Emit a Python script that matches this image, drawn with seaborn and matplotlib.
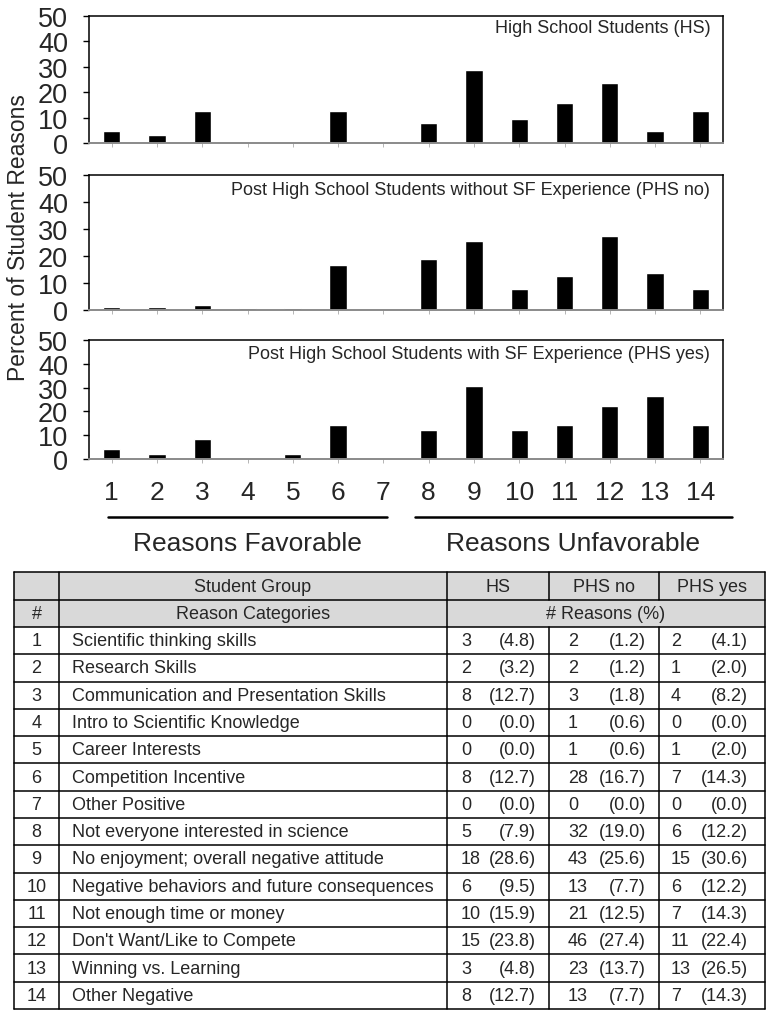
import matplotlib
matplotlib.use("Agg")
import matplotlib.pyplot as plt
import seaborn as sns
import pandas as pd
from matplotlib.patches import Rectangle

# -----------------------------
# Data (read off the table in the figure)
# -----------------------------
reason_ids = [str(i) for i in range(1, 15)]
categories = [
    "Scientific thinking skills",
    "Research Skills",
    "Communication and Presentation Skills",
    "Intro to Scientific Knowledge",
    "Career Interests",
    "Competition Incentive",
    "Other Positive",
    "Not everyone interested in science",
    "No enjoyment; overall negative attitude",
    "Negative behaviors and future consequences",
    "Not enough time or money",
    "Don't Want/Like to Compete",
    "Winning vs. Learning",
    "Other Negative",
]
hs_n = [3, 2, 8, 0, 0, 8, 0, 5, 18, 6, 10, 15, 3, 8]
hs_pct = [4.8, 3.2, 12.7, 0.0, 0.0, 12.7, 0.0, 7.9, 28.6, 9.5, 15.9, 23.8, 4.8, 12.7]
phs_no_n = [2, 2, 3, 1, 1, 28, 0, 32, 43, 13, 21, 46, 23, 13]
phs_no_pct = [1.2, 1.2, 1.8, 0.6, 0.6, 16.7, 0.0, 19.0, 25.6, 7.7, 12.5, 27.4, 13.7, 7.7]
phs_yes_n = [2, 1, 4, 0, 1, 7, 0, 6, 15, 6, 7, 11, 13, 7]
phs_yes_pct = [4.1, 2.0, 8.2, 0.0, 2.0, 14.3, 0.0, 12.2, 30.6, 12.2, 14.3, 22.4, 26.5, 14.3]

panel_titles = [
    "High School Students (HS)",
    "Post High School Students without SF Experience (PHS no)",
    "Post High School Students with SF Experience (PHS yes)",
]
group_names = ["HS", "PHS no", "PHS yes"]
group_n = [hs_n, phs_no_n, phs_yes_n]
group_pct = [hs_pct, phs_no_pct, phs_yes_pct]

# -----------------------------
# Style
# -----------------------------
sns.set_style("white")
plt.rcParams["font.family"] = ["Liberation Sans Narrow", "Liberation Sans", "DejaVu Sans"]

W, H = 768, 1012
fig = plt.figure(figsize=(W / 100, H / 100), dpi=100)

# panel boxes in pixels: (top, bottom)
boxes = [(17, 144), (176, 311), (341, 460)]
left_px, right_px = 89, 723
title_y = [0.91, 0.895, 0.89]

for i, (top, bot) in enumerate(boxes):
    ax = fig.add_axes([left_px / W, 1 - bot / H, (right_px - left_px) / W, (bot - top) / H])
    df = pd.DataFrame({"reason": reason_ids, "pct": group_pct[i]})
    sns.barplot(data=df, x="reason", y="pct", order=reason_ids, color="black",
                width=0.38, saturation=1, ax=ax)
    ax.set_xlim(-0.5, 13.5)
    ax.set_ylim(0, 50)
    ax.set_yticks([0, 10, 20, 30, 40, 50])
    ax.set_xlabel("")
    ax.set_ylabel("")
    for s in ["top", "right", "left"]:
        ax.spines[s].set_color("black")
        ax.spines[s].set_linewidth(1.1)
    ax.spines["bottom"].set_color("#8a8a8a")
    ax.spines["bottom"].set_linewidth(1.4)
    ax.tick_params(axis="y", left=True, length=4, width=1, color="black",
                   labelsize=19.5, pad=11)
    if i < 2:
        ax.tick_params(axis="x", bottom=True, length=3, width=0.6, color="#aaaaaa",
                       labelbottom=False)
    else:
        ax.tick_params(axis="x", bottom=True, length=3, width=0.6, color="#aaaaaa",
                       labelsize=19, pad=12)
    ax.text(0.98, title_y[i], panel_titles[i], transform=ax.transAxes,
            ha="right", va="center", fontsize=13)

fig.text(19 / W, 1 - 238 / H, "Percent of Student Reasons", rotation=90,
         ha="center", va="center", fontsize=16.5)

# overlay in pixel coordinates for underlines and the table
ov = fig.add_axes([0, 0, 1, 1])
ov.set_xlim(0, W)
ov.set_ylim(H, 0)
ov.axis("off")
ov.patch.set_alpha(0)

ov.plot([108, 387], [518, 518], color="black", lw=1.8)
ov.plot([415, 732], [518, 518], color="black", lw=1.8)
ov.text(247, 544, "Reasons Favorable", ha="center", va="center", fontsize=19)
ov.text(573, 544, "Reasons Unfavorable", ha="center", va="center", fontsize=19)

# -----------------------------
# Table
# -----------------------------
cols = [14, 59, 447, 549, 659, 765]
row_top = [573, 601, 628]
row_h = (1010 - 628) / 14
rows = row_top + [628 + row_h * (k + 1) for k in range(14)]
lw = 1.1
fs = 13

ov.add_patch(Rectangle((cols[0], rows[0]), cols[-1] - cols[0], rows[2] - rows[0],
                       facecolor="#d9d9d9", edgecolor="none"))
for y in rows:
    ov.plot([cols[0], cols[-1]], [y, y], color="black", lw=lw)
for x in [cols[0], cols[1], cols[2], cols[-1]]:
    ov.plot([x, x], [rows[0], rows[-1]], color="black", lw=lw)
for x in [cols[3], cols[4]]:
    ov.plot([x, x], [rows[0], rows[1]], color="black", lw=lw)
    ov.plot([x, x], [rows[2], rows[-1]], color="black", lw=lw)

def mid(a, b):
    return (a + b) / 2

ov.text(mid(cols[1], cols[2]), mid(rows[0], rows[1]), "Student Group", ha="center", va="center", fontsize=fs)
for g in range(3):
    ov.text(mid(cols[2 + g], cols[3 + g]), mid(rows[0], rows[1]), group_names[g],
            ha="center", va="center", fontsize=fs)
ov.text(mid(cols[0], cols[1]), mid(rows[1], rows[2]), "#", ha="center", va="center", fontsize=fs)
ov.text(mid(cols[1], cols[2]), mid(rows[1], rows[2]), "Reason Categories", ha="center", va="center", fontsize=fs)
ov.text(mid(cols[2], cols[5]), mid(rows[1], rows[2]), "# Reasons (%)", ha="center", va="center", fontsize=fs)

left_off = [14, 19, 12]
right_off = [13, 13, 17]
for k in range(14):
    yc = mid(rows[2 + k], rows[3 + k])
    ov.text(mid(cols[0], cols[1]), yc, reason_ids[k], ha="center", va="center", fontsize=fs)
    ov.text(cols[1] + 13, yc, categories[k], ha="left", va="center", fontsize=fs)
    for g in range(3):
        ov.text(cols[2 + g] + left_off[g], yc, str(group_n[g][k]), ha="left", va="center", fontsize=fs)
        ov.text(cols[3 + g] - right_off[g], yc, "(%.1f)" % group_pct[g][k], ha="right", va="center", fontsize=fs)

fig.savefig("out.png", dpi=100)
